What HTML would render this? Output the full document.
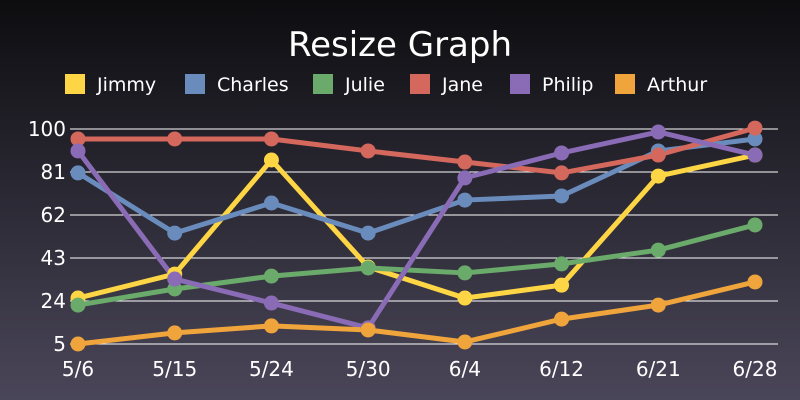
<!DOCTYPE html>
<html><head><meta charset="utf-8"><style>
html,body{margin:0;padding:0;}
body{width:800px;height:400px;overflow:hidden;background:linear-gradient(#0d0d10,#4a4659);font-family:"DejaVu Sans","Liberation Sans",sans-serif;}
svg{display:block;}
</style></head><body>
<svg id="chart" width="800" height="400" xmlns="http://www.w3.org/2000/svg">
<text x="400" y="56" fill="#fff" font-size="34" text-anchor="middle" font-family="DejaVu Sans, Liberation Sans, sans-serif">Resize Graph</text>
<g id="legend"></g><g id="grid"></g><g id="series"></g>
</svg>
<script>
const categories=["5/6","5/15","5/24","5/30","6/4","6/12","6/21","6/28"];
const yTicks=[5,24,43,62,81,100];
const seriesNames=["Jimmy","Charles","Julie","Jane","Philip","Arthur"];
const seriesColors=["#fdd545","#6a8cbc","#6aaa6a","#d5685c","#8a6bb5","#f0a43c"];
const jimmy=[25.3,35.9,86.3,39,25.3,31,79.2,88.5];
const charles=[80.6,54,67.3,54,68.6,70.4,90.3,95.6];
const julie=[22.2,29.3,35,38.6,36.4,40.4,46.5,57.6];
const jane=[95.6,95.6,95.6,90.3,85.4,80.6,88.5,100.4];
const philip=[90.3,33.7,23.1,12.1,78.4,89.4,98.7,88.5];
const arthur=[5,9.9,13,11.2,5.9,16,22.2,32.4];
const allSeries=[jimmy,charles,julie,jane,philip,arthur];
const NS="http://www.w3.org/2000/svg";
function x(i){return 78+i*(755-78)/(categories.length-1);}
function y(v){return 344-(v-5)*(344-129)/95;}
function mk(t,a,p){const e=document.createElementNS(NS,t);for(const k in a)e.setAttribute(k,a[k]);p.appendChild(e);return e;}
const grid=document.getElementById('grid');
yTicks.forEach(t=>{
 const l=mk('line',{x1:70,x2:778,y1:y(t),y2:y(t),stroke:'#fff','stroke-width':1},grid);
 
 
 const tx=mk('text',{x:66,y:y(t)+7,fill:'#fff','font-size':20,'text-anchor':'end'},grid);
 tx.textContent=t;
 
 
});
categories.forEach((c,i)=>{
 const tx=mk('text',{x:x(i),y:376,fill:'#fff','font-size':20,'text-anchor':'middle'},grid);
 tx.textContent=c;
 
 
});
const lg=document.getElementById('legend');
const lx=[65,185,313,410,510,615];
seriesNames.forEach((n,i)=>{
 const r=mk('rect',{x:lx[i],y:74,width:20,height:20,fill:seriesColors[i]},lg);
 
 
 const t=mk('text',{x:lx[i]+32,y:91,fill:'#fff','font-size':19},lg);
 t.textContent=n;
 
 
});
const sg=document.getElementById('series');
allSeries.forEach((d,s)=>{
 const p=mk('polyline',{points:d.map((v,i)=>x(i)+','+y(v)).join(' '),fill:'none',stroke:seriesColors[s],'stroke-width':5,'stroke-linejoin':'round'},sg);
 
 
});
allSeries.forEach((d,s)=>{
 d.forEach((v,i)=>{
  const c=mk('circle',{cx:x(i),cy:y(v),r:7.5,fill:seriesColors[s]},sg);
  
  
 });
});
</script>
</body></html>
